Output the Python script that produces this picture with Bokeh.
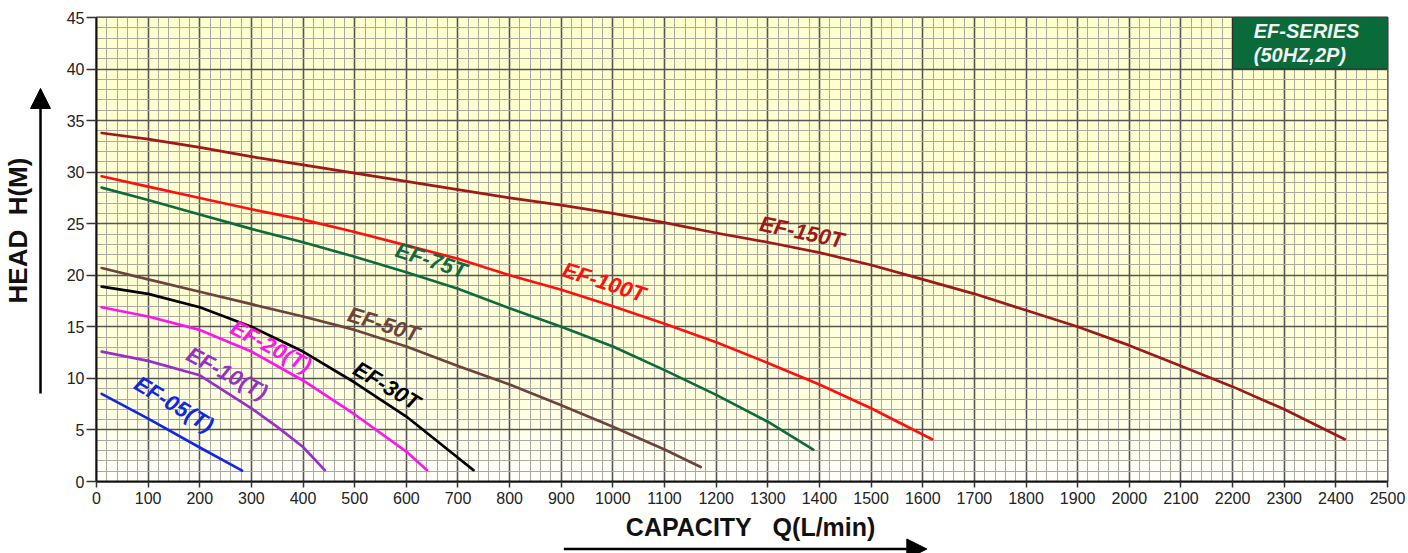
import numpy as np
from bokeh.plotting import figure
from bokeh.layouts import row, column
from bokeh.models import Range1d, SingleIntervalTicker, Arrow, NormalHead, ColumnDataSource
from bokeh.core.properties import value
from bokeh.embed import file_html
from bokeh.resources import INLINE

# ---------------- data ----------------
q_ef05 = [10, 100, 200, 282]
h_ef05 = [8.5, 6.1, 3.3, 1.05]

q_ef10 = [10, 100, 200, 250, 300, 350, 400, 442]
h_ef10 = [12.6, 11.7, 10.3, 8.7, 7.1, 5.3, 3.35, 1.1]

q_ef20 = [10, 100, 200, 300, 400, 500, 600, 640]
h_ef20 = [16.9, 16.0, 14.7, 12.6, 9.8, 6.5, 2.9, 1.1]

q_ef30 = [10, 100, 200, 300, 400, 500, 600, 700, 730]
h_ef30 = [18.9, 18.2, 16.9, 15.0, 12.6, 9.6, 6.3, 2.3, 1.1]

q_ef50 = [10, 100, 200, 300, 400, 500, 600, 700, 800, 900, 1000, 1100, 1170]
h_ef50 = [20.7, 19.6, 18.4, 17.2, 16.0, 14.7, 13.1, 11.2, 9.4, 7.4, 5.3, 3.1, 1.4]

q_ef75 = [10, 100, 200, 300, 400, 500, 600, 700, 800, 900, 1000, 1100, 1200, 1300, 1388]
h_ef75 = [28.5, 27.3, 25.9, 24.5, 23.2, 21.8, 20.3, 18.7, 16.8, 15.0, 13.1, 10.8, 8.4, 5.8, 3.1]

q_ef100 = [10, 100, 200, 300, 400, 500, 600, 700, 800, 900, 1000, 1100, 1200, 1300, 1400, 1500, 1618]
h_ef100 = [29.6, 28.6, 27.5, 26.4, 25.4, 24.2, 22.9, 21.6, 20.0, 18.6, 17.0, 15.3, 13.5, 11.5, 9.4, 7.1, 4.1]

q_ef150 = [10, 100, 200, 300, 400, 500, 600, 700, 800, 900, 1000, 1100, 1200, 1300,
           1400, 1500, 1600, 1700, 1800, 1900, 2000, 2100, 2200, 2300, 2417]
h_ef150 = [33.8, 33.2, 32.4, 31.5, 30.7, 29.9, 29.1, 28.3, 27.5, 26.8, 26.0, 25.1, 24.1, 23.2,
           22.2, 21.0, 19.6, 18.2, 16.6, 15.0, 13.2, 11.2, 9.2, 7.0, 4.1]

series_names = ["EF-05(T)", "EF-10(T)", "EF-20(T)", "EF-30T", "EF-50T", "EF-75T", "EF-100T", "EF-150T"]
series_q = [q_ef05, q_ef10, q_ef20, q_ef30, q_ef50, q_ef75, q_ef100, q_ef150]
series_h = [h_ef05, h_ef10, h_ef20, h_ef30, h_ef50, h_ef75, h_ef100, h_ef150]

x_tick_step = 100
y_tick_step = 5
title_box_lines = ["EF-SERIES", "(50HZ,2P)"]
x_title = "CAPACITY\u00a0\u00a0 Q(L/min)"
y_title = "HEAD\u00a0 H(M)"

# ---------------- styles / positions ----------------
colors = ["#1028E6", "#9A2FC8", "#FF14EE", "#000000", "#6E433B", "#0E6B3C", "#FF1010", "#A01818"]
label_x = [150, 253, 338, 562, 556, 648, 983, 1366]
label_y = [7.5, 10.5, 13.1, 9.3, 15.25, 21.45, 19.35, 24.2]
label_angle = [-31, -28, -28, -31, -17, -18, -18, -12]

FONT = "Liberation Sans"
LEFT_W = 60
TOTAL_W, TOTAL_H = 1408, 553
MAIN_H = 513

# ---------------- main chart ----------------
p = figure(width=TOTAL_W - LEFT_W, height=MAIN_H, output_backend="svg", toolbar_location=None,
           x_range=Range1d(0, 2500), y_range=Range1d(0, 45),
           min_border_left=36, min_border_right=21, min_border_top=17, min_border_bottom=32)
p.border_fill_color = "white"
p.background_fill_color = "#FFFFE6"
p.outline_line_color = "#303030"
p.outline_line_width = 2

# background gradient (yellow at top fading to near white at bottom)
n = 200
hh = np.linspace(0, 45, n)
blue = np.interp(hh, [0, 8, 20, 45], [250, 224, 212, 206]).astype(np.uint8)
img = np.empty((n, 1), dtype=np.uint32)
view = img.view(dtype=np.uint8).reshape((n, 1, 4))
view[:, 0, 0] = 255
view[:, 0, 1] = 255
view[:, 0, 2] = blue
view[:, 0, 3] = 255
p.image_rgba(image=[img], x=0, y=0, dw=2500, dh=45, level="image")

# ticks and grid
xt = SingleIntervalTicker(interval=x_tick_step, num_minor_ticks=5)
yt = SingleIntervalTicker(interval=y_tick_step, num_minor_ticks=5)
p.xaxis.ticker = xt
p.yaxis.ticker = yt
p.xgrid.ticker = xt
p.ygrid.ticker = yt
for g in (p.xgrid, p.ygrid):
    g.grid_line_color = "#555555"
    g.grid_line_width = 1.6
    g.minor_grid_line_color = "#aaaaa2"
    g.minor_grid_line_width = 1

for ax in (p.xaxis, p.yaxis):
    ax.axis_line_color = "#111111"
    ax.axis_line_width = 2
    ax.major_tick_line_color = "#333333"
    ax.major_tick_line_width = 1.5
    ax.major_tick_in = 0
    ax.minor_tick_line_color = None
    ax.major_label_text_font = FONT
    ax.major_label_text_font_size = "16px"
    ax.major_label_text_color = "#222222"
p.xaxis.major_tick_out = 6
p.xaxis.major_label_standoff = 4
p.yaxis.major_tick_out = 10
p.yaxis.major_label_standoff = 2

# curves
for q, h, c in zip(series_q, series_h, colors):
    p.line(q, h, line_color=c, line_width=2.7, line_join="round", line_cap="round")

# curve labels
lab_src = ColumnDataSource(dict(x=label_x, y=label_y, text=series_names,
                                angle=label_angle, color=colors))
p.text(x="x", y="y", text="text", angle="angle", angle_units="deg", source=lab_src,
       text_color="color", text_font=value(FONT), text_font_style="bold italic",
       text_font_size="22px", text_align="center", text_baseline="middle")

# series box
p.quad(left=[2200], right=[2500], bottom=[40], top=[45],
       fill_color="#0A6A3A", line_color="#2a2a2a", line_width=1)
p.text(x=[2241, 2241], y=[43.7, 41.35], text=title_box_lines,
       text_color="#F2F2F2", text_font=value(FONT), text_font_style="bold italic",
       text_font_size="20px", text_align="left", text_baseline="middle")

# ---------------- left strip: y title + arrow (pixel coordinates) ----------------
def strip(w, h):
    f = figure(width=w, height=h, output_backend="svg", toolbar_location=None,
               x_range=Range1d(0, w), y_range=Range1d(h, 0),
               x_axis_location=None, y_axis_location=None, min_border=0)
    f.outline_line_color = None
    f.grid.visible = False
    f.border_fill_color = "white"
    f.background_fill_color = "white"
    return f

left = strip(LEFT_W, TOTAL_H)
left.text(x=[17.7], y=[230], text=[y_title], angle=[90], angle_units="deg",
          text_font=value(FONT), text_font_style="bold", text_font_size="26px",
          text_color="#111111", text_align="center", text_baseline="middle")
left.add_layout(Arrow(end=NormalHead(size=20, fill_color="black", line_color="black"),
                      x_start=40, y_start=393, x_end=40, y_end=88,
                      line_width=2.5, line_color="black"))

# ---------------- bottom strip: x title + arrow ----------------
bottom = strip(TOTAL_W - LEFT_W, TOTAL_H - MAIN_H)
bottom.text(x=[683], y=[13.5], text=[x_title],
            text_font=value(FONT), text_font_style="bold", text_font_size="25px",
            text_color="#111111", text_align="center", text_baseline="middle")
bottom.add_layout(Arrow(end=NormalHead(size=20, fill_color="black", line_color="black"),
                        x_start=488, y_start=35.5, x_end=867, y_end=35.5,
                        line_width=2.5, line_color="black"))

layout = row(left, column(p, bottom, spacing=0), spacing=0)
open("out.html", "w").write(file_html(layout, INLINE))
